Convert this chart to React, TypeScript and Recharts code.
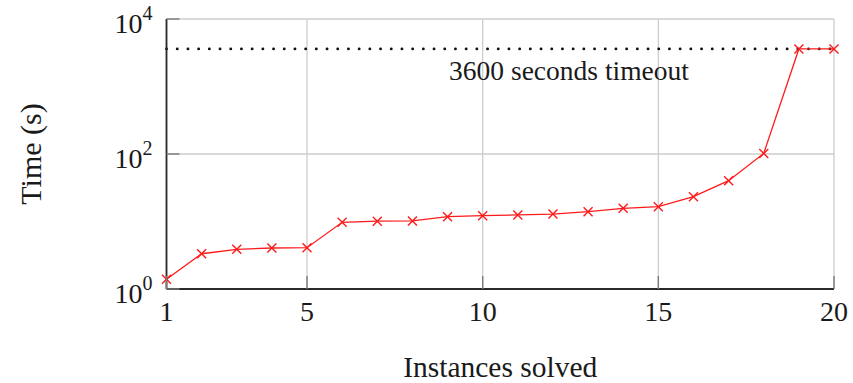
import React from 'react';
import {
  LineChart,
  Line,
  XAxis,
  YAxis,
  CartesianGrid,
  ReferenceLine,
} from 'recharts';

const instances = [1, 2, 3, 4, 5, 6, 7, 8, 9, 10, 11, 12, 13, 14, 15, 16, 17, 18, 19, 20];
const times = [1.39, 3.33, 3.87, 4.05, 4.09, 9.73, 10.1, 10.2, 11.8, 12.2, 12.5, 12.9, 14.0, 15.7, 16.6, 23.3, 40.2, 102, 3600, 3600];
const xTicks = [1, 5, 10, 15, 20];
const yTicks = [1, 100, 10000];
const yTickExponents: Record<number, string> = { 1: '0', 100: '2', 10000: '4' };
const timeoutValue = 3600;
const timeoutLabel = '3600 seconds timeout';
const xTitle = 'Instances solved';
const yTitle = 'Time (s)';

const data = instances.map((x, i) => ({ x, t: times[i] }));

const FONT = '"Liberation Serif", "Times New Roman", serif';
const TEXT = '#1a1a1a';
const TICK = '#7a7a7a';
const FRAME = '#2a2a2a';
const RED = '#ff1a1a';
const TL = 13;

const BottomTick = (props: any) => {
  const { x, y, payload } = props;
  return (
    <g>
      <line x1={x} y1={y} x2={x} y2={y - TL} stroke={TICK} strokeWidth={1.4} />
      <text x={x} y={y + 32} textAnchor="middle" fontFamily={FONT} style={{ fontFamily: FONT }} fontSize={28} fill={TEXT}>
        {payload.value}
      </text>
    </g>
  );
};

const TopTick = (props: any) => {
  const { x, y } = props;
  return <line x1={x} y1={y} x2={x} y2={y + TL} stroke={TICK} strokeWidth={1.4} />;
};

const LeftTick = (props: any) => {
  const { x, y, payload } = props;
  return (
    <g>
      <line x1={x} y1={y} x2={x + TL} y2={y} stroke={TICK} strokeWidth={1.4} />
      <text x={x - 14} y={y + 13.5} textAnchor="end" fontFamily={FONT} style={{ fontFamily: FONT }} fontSize={28} fill={TEXT}>
        10
        <tspan dy={-12.5} fontSize={20}>
          {yTickExponents[payload.value]}
        </tspan>
      </text>
    </g>
  );
};

const RightTick = (props: any) => {
  const { x, y } = props;
  return <line x1={x} y1={y} x2={x - TL} y2={y} stroke={TICK} strokeWidth={1.4} />;
};

const CrossDot = (props: any) => {
  const { cx, cy } = props;
  if (cx == null || cy == null) return null;
  const r = 4.5;
  return (
    <g>
      <line x1={cx - r} y1={cy - r} x2={cx + r} y2={cy + r} stroke={RED} strokeWidth={1.4} />
      <line x1={cx - r} y1={cy + r} x2={cx + r} y2={cy - r} stroke={RED} strokeWidth={1.4} />
    </g>
  );
};

const TimeoutLabel = (props: any) => {
  const vb = props.viewBox || {};
  const x = (vb.x ?? 0) + (vb.width ?? 0) * 0.603;
  const y = (vb.y ?? 0) + 31;
  return (
    <text x={x} y={y} textAnchor="middle" fontFamily={FONT} style={{ fontFamily: FONT }} fontSize={27.5} fill={TEXT}>
      {timeoutLabel}
    </text>
  );
};

const XTitle = (props: any) => {
  const vb = props.viewBox || {};
  return (
    <text x={vb.x + vb.width / 2} y={vb.y + 87.7} textAnchor="middle" fontFamily={FONT} style={{ fontFamily: FONT }} fontSize={29.5} fill={TEXT}>
      {xTitle}
    </text>
  );
};

const YTitle = (props: any) => {
  const vb = props.viewBox || {};
  const cx = 41;
  const cy = vb.y + vb.height / 2;
  return (
    <text
      x={cx}
      y={cy}
      textAnchor="middle"
      fontFamily={FONT}
      style={{ fontFamily: FONT }}
      fontSize={30}
      fill={TEXT}
      transform={`rotate(-90, ${cx}, ${cy})`}
    >
      {yTitle}
    </text>
  );
};

export default function App() {
  return (
    <div style={{ position: 'absolute', left: 0, top: 0, width: 853, height: 383, overflow: 'hidden' }}>
      <LineChart
        width={853}
        height={383}
        data={data}
        margin={{ top: 19, right: 19, bottom: 54, left: 0 }}
      >
        <CartesianGrid stroke="#cdcdcd" strokeWidth={1.3} />
        <XAxis
          xAxisId={0}
          dataKey="x"
          type="number"
          domain={[1, 20]}
          ticks={xTicks}
          interval={0}
          height={40}
          tickSize={0}
          tickMargin={0}
          tickLine={false}
          axisLine={{ stroke: FRAME, strokeWidth: 1.8 }}
          tick={<BottomTick />}
          label={<XTitle />}
        />
        <XAxis
          xAxisId="top"
          orientation="top"
          dataKey="x"
          type="number"
          domain={[1, 20]}
          ticks={xTicks}
          interval={0}
          height={0}
          tickSize={0}
          tickMargin={0}
          tickLine={false}
          axisLine={{ stroke: FRAME, strokeWidth: 1.8 }}
          tick={<TopTick />}
        />
        <YAxis
          yAxisId={0}
          type="number"
          scale="log"
          domain={[1, 10000]}
          ticks={yTicks}
          interval={0}
          width={166.5}
          tickSize={0}
          tickMargin={0}
          tickLine={false}
          axisLine={{ stroke: FRAME, strokeWidth: 1.8 }}
          tick={<LeftTick />}
          label={<YTitle />}
        />
        <YAxis
          yAxisId="right"
          orientation="right"
          type="number"
          scale="log"
          domain={[1, 10000]}
          ticks={yTicks}
          interval={0}
          width={0}
          tickSize={0}
          tickMargin={0}
          tickLine={false}
          axisLine={{ stroke: FRAME, strokeWidth: 1.8 }}
          tick={<RightTick />}
        />
        <ReferenceLine
          y={timeoutValue}
          stroke="#111"
          strokeWidth={2.8}
          strokeDasharray="0.1 10.6"
          strokeLinecap="round"
          label={<TimeoutLabel />}
        />
        <Line
          dataKey="t"
          stroke={RED}
          strokeWidth={1.3}
          dot={<CrossDot />}
          activeDot={false}
          isAnimationActive={false}
        />
      </LineChart>
    </div>
  );
}
